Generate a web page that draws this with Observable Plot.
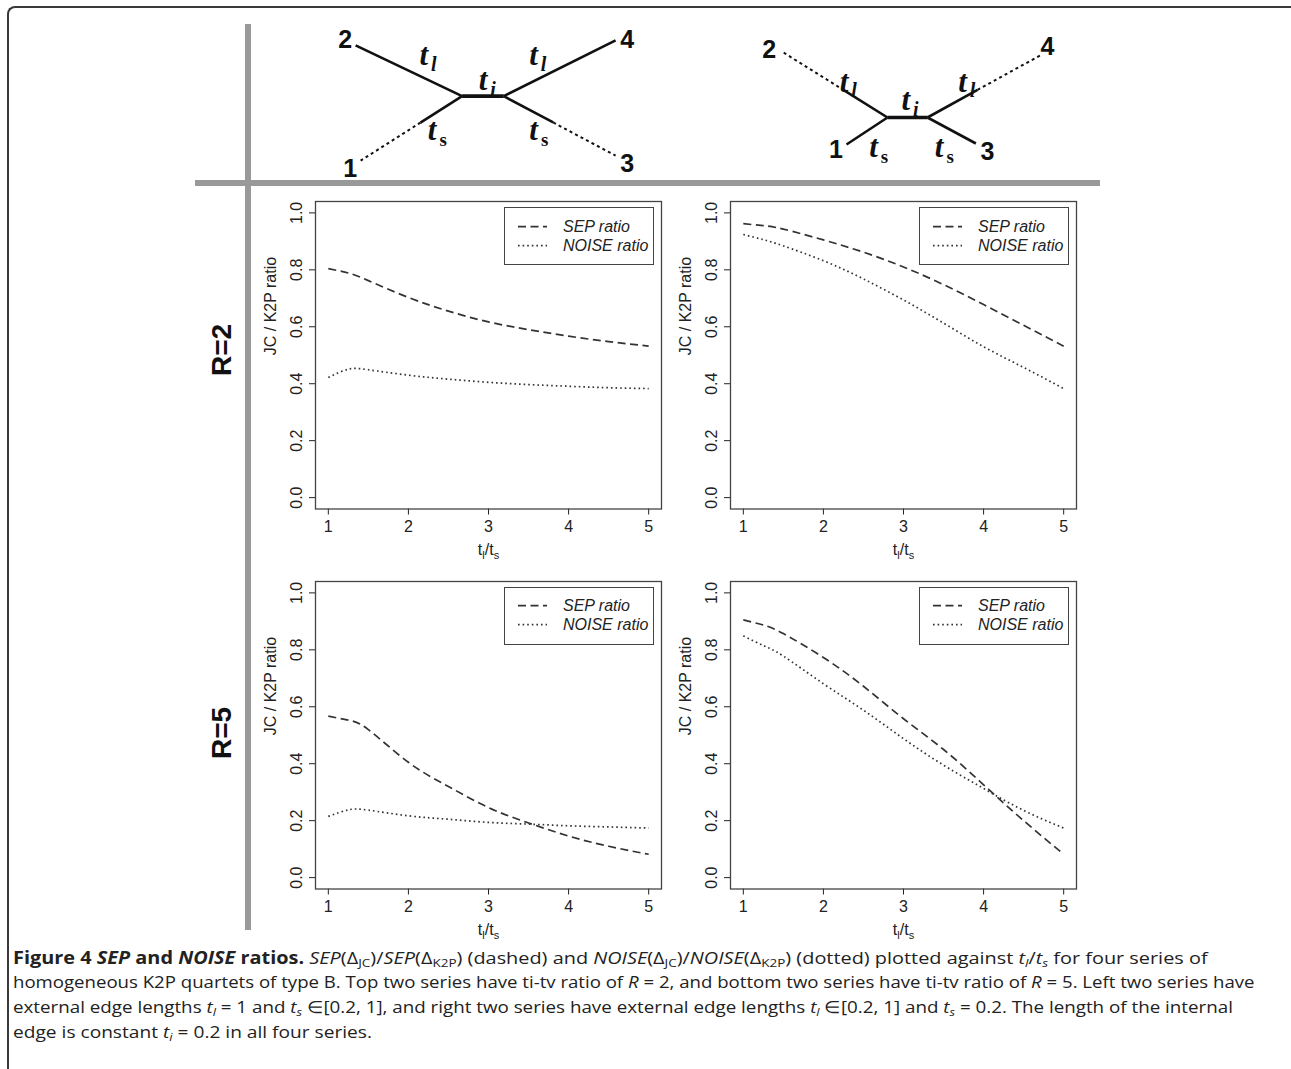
<!DOCTYPE html>
<html>
<head>
<meta charset="utf-8">
<script src="https://cdn.jsdelivr.net/npm/d3@7"></script>
<script src="https://cdn.jsdelivr.net/npm/@observablehq/plot@0.6"></script>
<style>
  body { margin: 0; background: #fff; }
  #fig { position: relative; width: 1291px; height: 1069px; overflow: hidden; background: #fff;
         font-family: "Liberation Sans", Arial, Helvetica, sans-serif; color: #222; }
  .abs { position: absolute; }
  .gray { position: absolute; background: #999; }
  .rowlab { position: absolute; font-weight: bold; font-size: 28px; line-height: 1; white-space: nowrap;
            transform: translate(-50%, -50%) rotate(-90deg); color: #111; }
  .cap { position: absolute; left: 13px; white-space: nowrap; font-family: "Open Sans", "Noto Sans", sans-serif;
         font-size: 17px; line-height: 24.7px; color: #222; transform-origin: 0 50%; }
  .cap sub { font-size: 0.68em; vertical-align: -0.25em; line-height: 0; }
  .legend { position: absolute; border: 1.3px solid #444; background: #fff; box-sizing: border-box; }
  svg.plot { overflow: visible; }
</style>
</head>
<body>
<div id="fig"></div>
<script>
// ---------------- data ----------------
const ratioX = [1, 1.25, 1.5, 2, 2.5, 3, 3.5, 4, 4.5, 5];

const sepR2Left    = [0.804, 0.789, 0.762, 0.703, 0.655, 0.617, 0.590, 0.567, 0.548, 0.532];
const noiseR2Left  = [0.422, 0.451, 0.449, 0.430, 0.416, 0.405, 0.397, 0.391, 0.386, 0.383];
const sepR2Right   = [0.962, 0.955, 0.943, 0.905, 0.862, 0.810, 0.748, 0.678, 0.605, 0.532];
const noiseR2Right = [0.924, 0.906, 0.884, 0.832, 0.768, 0.694, 0.613, 0.530, 0.457, 0.383];
const sepR5Left    = [0.567, 0.553, 0.520, 0.405, 0.320, 0.246, 0.192, 0.146, 0.110, 0.082];
const noiseR5Left  = [0.215, 0.238, 0.237, 0.217, 0.205, 0.194, 0.188, 0.182, 0.178, 0.174];
const sepR5Right   = [0.905, 0.887, 0.857, 0.773, 0.672, 0.558, 0.450, 0.326, 0.200, 0.082];
const noiseR5Right = [0.849, 0.815, 0.778, 0.681, 0.588, 0.488, 0.395, 0.313, 0.236, 0.174];

const xTicks = [1, 2, 3, 4, 5];
const yTicks = [0, 0.2, 0.4, 0.6, 0.8, 1.0];
const rowLabels = ["R=2", "R=5"];
const legendLabels = ["SEP ratio", "NOISE ratio"];
const yAxisTitle = "JC / K2P ratio";

// tree schematics (units: internal branch length = 1, y up)
const leftTreeNodes = [
  {id: "a", x: -0.5, y: 0}, {id: "b", x: 0.5, y: 0},
  {id: "1", x: -2.94, y: -1.55}, {id: "2", x: -3.06, y: 1.22},
  {id: "3", x: 3.19, y: -1.43}, {id: "4", x: 3.19, y: 1.34},
  {id: "s1", x: -1.50, y: -0.635}, {id: "s3", x: 1.69, y: -0.632}
];
const leftTreeEdges = [["a","b","internal"], ["a","2","solid"], ["a","s1","solid"], ["s1","1","dotted"],
                       ["b","4","solid"], ["b","s3","solid"], ["s3","3","dotted"]];
const leftLeafLabels = [{t: "1", x: -3.19, y: -1.75}, {t: "2", x: -3.31, y: 1.36},
                        {t: "3", x: 3.47, y: -1.63}, {t: "4", x: 3.47, y: 1.36}];
const leftBranchLabels = [{sub: "l", x: -1.42, y: 0.98}, {sub: "l", x: 1.22, y: 0.98}, {sub: "i", x: 0.005, y: 0.38},
                          {sub: "s", x: -1.22, y: -0.82}, {sub: "s", x: 1.22, y: -0.82}];

const rightTreeNodes = [
  {id: "a", x: -0.5, y: 0}, {id: "b", x: 0.5, y: 0},
  {id: "1", x: -1.525, y: -0.675}, {id: "2", x: -3.125, y: 1.64},
  {id: "3", x: 1.71, y: -0.65}, {id: "4", x: 3.33, y: 1.56},
  {id: "s2", x: -1.585, y: 0.678}, {id: "s4", x: 1.75, y: 0.689}
];
const rightTreeEdges = [["a","b","internal"], ["a","s2","solid"], ["s2","2","dotted"], ["a","1","solid"],
                        ["b","s4","solid"], ["s4","4","dotted"], ["b","3","solid"]];
const rightLeafLabels = [{t: "1", x: -1.79, y: -0.82}, {t: "2", x: -3.46, y: 1.68},
                         {t: "3", x: 2.0, y: -0.86}, {t: "4", x: 3.5, y: 1.77}];
const rightBranchLabels = [{sub: "l", x: -1.585, y: 0.89}, {sub: "l", x: 1.375, y: 0.89}, {sub: "i", x: -0.04, y: 0.43},
                           {sub: "s", x: -0.85, y: -0.735}, {sub: "s", x: 0.79, y: -0.735}];

const captionLines = [
  '<b>Figure 4 <i>SEP</i> and <i>NOISE</i> ratios.</b> <i>SEP</i>(Δ<sub>JC</sub>)/<i>SEP</i>(Δ<sub>K2P</sub>) (dashed) and <i>NOISE</i>(Δ<sub>JC</sub>)/<i>NOISE</i>(Δ<sub>K2P</sub>) (dotted) plotted against <i>t<sub>l</sub></i>/<i>t<sub>s</sub></i> for four series of',
  'homogeneous K2P quartets of type B. Top two series have ti-tv ratio of <i>R</i> = 2, and bottom two series have ti-tv ratio of <i>R</i> = 5. Left two series have',
  'external edge lengths <i>t<sub>l</sub></i> = 1 and <i>t<sub>s</sub></i> ∈[0.2, 1], and right two series have external edge lengths <i>t<sub>l</sub></i> ∈[0.2, 1] and <i>t<sub>s</sub></i> = 0.2. The length of the internal',
  'edge is constant <i>t<sub>i</sub></i> = 0.2 in all four series.'
];

// ---------------- layout ----------------
const fig = document.getElementById("fig");
function place(el, left, top) { el.style.position = "absolute"; el.style.left = left + "px"; el.style.top = top + "px"; fig.appendChild(el); return el; }
function div(cls, left, top, w, h) {
  const d = document.createElement("div"); d.className = cls;
  if (w != null) d.style.width = w + "px"; if (h != null) d.style.height = h + "px";
  return place(d, left, top);
}

// page frame (left + top rule with rounded corner)
const frame = div("abs", 7, 6, 1300, 1100);
frame.style.borderLeft = "2px solid #3a3a3a"; frame.style.borderTop = "2px solid #3a3a3a";
frame.style.borderTopLeftRadius = "8px";

// grey cross
div("gray", 245, 24, 6, 906);
div("gray", 195, 180, 905, 6);

// row labels
rowLabels.forEach((lab, i) => {
  const d = document.createElement("div"); d.className = "rowlab"; d.textContent = lab;
  place(d, 221.7, i === 0 ? 350 : 733);
});

// ---------------- trees ----------------
function tree(nodes, edges, leafLabels, branchLabels, unit, cx, cy) {
  const byId = new Map(nodes.map(n => [n.id, n]));
  const seg = kind => edges.filter(e => e[2] === kind).map(e => ({a: byId.get(e[0]), b: byId.get(e[1])}));
  const linkOpts = {x1: d => d.a.x, y1: d => d.a.y, x2: d => d.b.x, y2: d => d.b.y, stroke: "#111", strokeLinecap: "butt"};
  const W = 8 * unit, H = 4.6 * unit;
  const serif = "Liberation Serif, DejaVu Serif, serif";
  const svg = Plot.plot({
    width: W, height: H, margin: 0, axis: null,
    x: {domain: [-4, 4]}, y: {domain: [-2.3, 2.3]},
    style: {background: "transparent", overflow: "visible"},
    marks: [
      Plot.link(seg("internal"), {...linkOpts, strokeWidth: 3.6}),
      Plot.link(seg("solid"), {...linkOpts, strokeWidth: 2.6}),
      Plot.link(seg("dotted"), {...linkOpts, strokeWidth: 2, strokeDasharray: "3,3.2"}),
      Plot.text(leafLabels, {x: "x", y: "y", text: "t", fontSize: 25, fontWeight: "bold",
                             fontFamily: "Liberation Sans, Arial, sans-serif", fill: "#111"}),
      Plot.text(branchLabels, {x: "x", y: "y", text: () => "t", fontSize: 31, fontWeight: "bold", fontStyle: "italic",
                               fontFamily: serif, fill: "#111"}),
      Plot.text(branchLabels.filter(d => d.sub !== "s"), {x: "x", y: "y", text: "sub", dx: 10, dy: 9, fontSize: 20,
                               fontWeight: "bold", fontStyle: "italic", fontFamily: serif, fill: "#111"}),
      Plot.text(branchLabels.filter(d => d.sub === "s"), {x: "x", y: "y", text: "sub", dx: 11, dy: 10, fontSize: 19,
                               fontWeight: "bold", fontFamily: serif, fill: "#111"})
    ]
  });
  place(svg, cx - W / 2, cy - H / 2);
}
tree(leftTreeNodes, leftTreeEdges, leftLeafLabels, leftBranchLabels, 41.6, 482.5, 95.7);
tree(rightTreeNodes, rightTreeEdges, rightLeafLabels, rightBranchLabels, 40, 906.7, 117.3);

// ---------------- panels ----------------
const BW = 346, BH = 307.5;
const SEP_DASH = "8,4.5", NOISE_DASH = "1.6,3";
const X_TITLE = "tl/ts";
function panel(sep, noise, boxLeft, boxTop) {
  const mL = 60, mR = 15, mT = 8, mB = 65;
  const sepData = ratioX.map((x, i) => ({x, v: sep[i]}));
  const noiseData = ratioX.map((x, i) => ({x, v: noise[i]}));
  const lineOpts = {x: "x", y: "v", stroke: "#333", strokeWidth: 1.7, strokeLinecap: "butt", curve: "natural"};
  const svg = Plot.plot({
    width: BW + mL + mR, height: BH + mT + mB,
    marginLeft: mL, marginRight: mR, marginTop: mT, marginBottom: mB,
    x: {domain: [0.84, 5.16], ticks: xTicks, tickSize: 6, tickPadding: 6, tickFormat: d3.format("d"), label: null},
    y: {domain: [-0.04, 1.04], ticks: yTicks, tickSize: 6, tickPadding: 8, tickRotate: -90,
        tickFormat: d3.format(".1f"), label: null},
    style: {background: "transparent", overflow: "visible", color: "#222", fontSize: "16px",
            fontFamily: "Liberation Sans, Arial, Helvetica, sans-serif"},
    marks: [
      Plot.frame({stroke: "#444", strokeWidth: 1.3}),
      Plot.line(sepData, {...lineOpts, strokeDasharray: SEP_DASH}),
      Plot.line(noiseData, {...lineOpts, strokeDasharray: NOISE_DASH}),
      Plot.text([yAxisTitle], {frameAnchor: "left", rotate: -90, dx: -45, fontSize: 16, fill: "#222"}),
      Plot.text([X_TITLE], {frameAnchor: "bottom", dy: 46, fontSize: 16, fill: "#222"})
    ]
  });
  svg.querySelectorAll("text").forEach(t => {
    if (t.textContent === X_TITLE) {
      t.innerHTML = 't<tspan font-size="11" dy="4">l</tspan><tspan dy="-4">/t</tspan><tspan font-size="11" dy="4">s</tspan>';
    }
  });
  place(svg, boxLeft - mL, boxTop - mT);

  // legend box (top-right inside the plot box)
  const lw = 150, lh = 58;
  const lg = div("legend", boxLeft + BW - 7 - lw, boxTop + 5.7, lw, lh);
  const rows = [SEP_DASH, NOISE_DASH];
  lg.innerHTML = `<svg width="${lw}" height="${lh}" style="position:absolute;left:-1.3px;top:-1.3px;overflow:visible">` +
    legendLabels.map((lab, i) => {
      const y = 19.7 + 19 * i;
      return `<line x1="14" x2="43" y1="${y}" y2="${y}" stroke="#333" stroke-width="1.7" stroke-dasharray="${rows[i]}"/>` +
             `<text x="59" y="${y}" dy="0.35em" font-size="16" font-style="italic" fill="#222" font-family="Liberation Sans, Arial, sans-serif">${lab}</text>`;
    }).join("") + `</svg>`;
}
panel(sepR2Left, noiseR2Left, 315, 201.3);
panel(sepR2Right, noiseR2Right, 730, 201.3);
panel(sepR5Left, noiseR5Left, 315, 581);
panel(sepR5Right, noiseR5Right, 730, 581);

// ---------------- caption ----------------
const capEnds = [1208, 1255, 1233, 372];
captionLines.forEach((html, i) => {
  const d = document.createElement("div"); d.className = "cap"; d.innerHTML = html;
  place(d, 13, 965 - 19.3 + 24.7 * i);
  const w = d.scrollWidth;
  const target = capEnds[i] - 13;
  if (w > 0) d.style.transform = `scaleX(${(target / w).toFixed(4)})`;
});
</script>
</body>
</html>
